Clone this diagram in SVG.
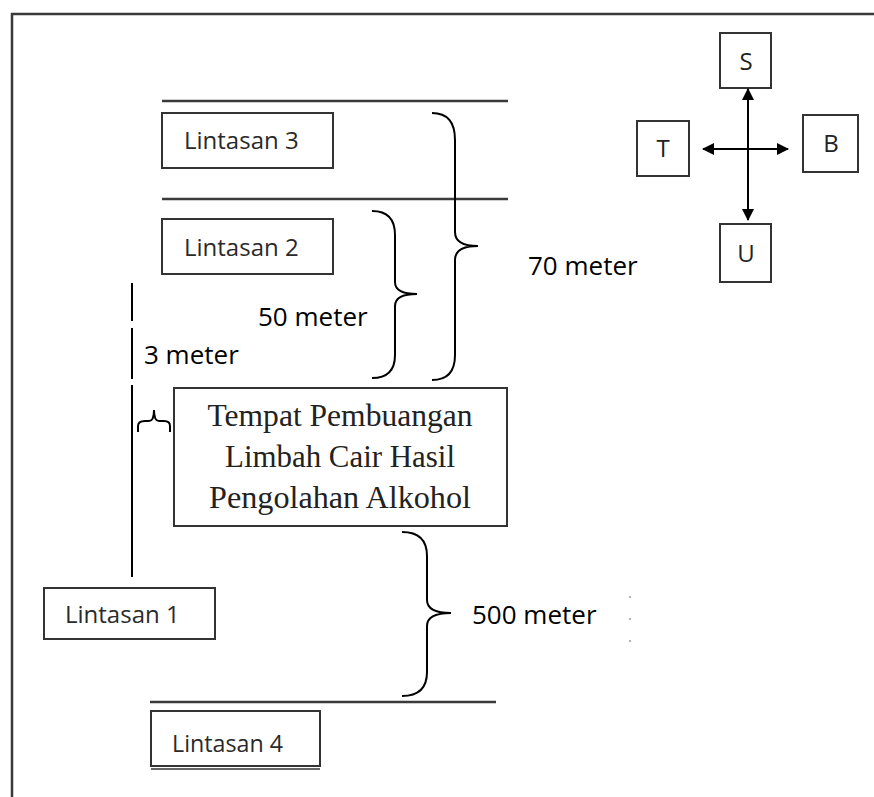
<svg xmlns="http://www.w3.org/2000/svg" width="874" height="797" viewBox="0 0 874 797">
  <style>
    .box { fill: #ffffff; stroke: #333333; stroke-width: 2; }
    .rule { stroke: #3a3a3a; stroke-width: 2.5; fill: none; }
    .brace { stroke: #000000; stroke-width: 2; fill: none; }
    .lbl { font-family: "Open Sans", "Liberation Sans", sans-serif; font-size: 24px; fill: #2a2a2a; }
    .dim { font-family: "Open Sans", "Liberation Sans", sans-serif; font-size: 26px; fill: #000000; }
    .dir { font-family: "Open Sans", "Liberation Sans", sans-serif; font-size: 24px; fill: #222222; text-anchor: middle; }
    .serif { font-family: "Liberation Serif", "Times New Roman", serif; font-size: 32px; fill: #222222; text-anchor: middle; }
    .arrow { stroke: #000000; stroke-width: 2; fill: none; marker-start: url(#ah); marker-end: url(#ah); }
  </style>
  <defs>
    <marker id="ah" viewBox="0 0 12 12" refX="11" refY="6" markerWidth="12" markerHeight="12" markerUnits="userSpaceOnUse" orient="auto-start-reverse">
      <path d="M0,0 L12,6 L0,12 Z" fill="#000000"/>
    </marker>
  </defs>

  <rect width="874" height="797" fill="#ffffff"/>

  <!-- frame -->
  <g id="frame">
    <path class="rule" d="M12,797 L12,14 L874,14"/>
  </g>

  <!-- road lines -->
  <g id="roads">
    <line class="rule" x1="162" y1="101" x2="508" y2="101"/>
    <line class="rule" x1="162" y1="199" x2="508" y2="199"/>
    <line class="rule" x1="150" y1="702" x2="496" y2="702"/>
  </g>

  <g id="lintasan3">
    <rect class="box" x="162" y="113" width="171" height="55"/>
    <text class="lbl" x="184" y="149">Lintasan 3</text>
  </g>
  <g id="lintasan2">
    <rect class="box" x="162" y="219" width="171" height="55"/>
    <text class="lbl" x="184" y="256">Lintasan 2</text>
  </g>
  <g id="lintasan1">
    <rect class="box" x="44" y="588" width="171" height="51"/>
    <text class="lbl" x="65" y="623">Lintasan 1</text>
  </g>
  <g id="lintasan4">
    <rect class="box" x="151" y="711" width="169" height="55" stroke="#000000"/>
    <line x1="151" y1="769" x2="320" y2="769" stroke="#333333" stroke-width="1.5"/>
    <text class="lbl" x="172" y="752" fill="#000000" font-size="25" textLength="111" lengthAdjust="spacingAndGlyphs">Lintasan 4</text>
  </g>

  <g id="tempat">
    <rect class="box" x="174" y="388" width="333" height="138"/>
    <text class="serif" x="340" y="426" textLength="265" lengthAdjust="spacingAndGlyphs">Tempat Pembuangan</text>
    <text class="serif" x="340" y="467" textLength="230" lengthAdjust="spacingAndGlyphs">Limbah Cair Hasil</text>
    <text class="serif" x="340" y="508" textLength="262" lengthAdjust="spacingAndGlyphs">Pengolahan Alkohol</text>
  </g>

  <!-- compass -->
  <g id="compass-S">
    <rect class="box" x="720" y="33" width="51" height="55"/>
    <text class="dir" x="746" y="70">S</text>
  </g>
  <g id="compass-T">
    <rect class="box" x="637" y="121" width="52" height="55"/>
    <text class="dir" x="663" y="157">T</text>
  </g>
  <g id="compass-B">
    <rect class="box" x="803" y="115" width="55" height="57"/>
    <text class="dir" x="831" y="152">B</text>
  </g>
  <g id="compass-U">
    <rect class="box" x="720" y="224" width="51" height="58"/>
    <text class="dir" x="746" y="262">U</text>
  </g>

  <g id="connectors">
    <line class="arrow" x1="748" y1="220" x2="748" y2="89"/>
    <line class="arrow" x1="703" y1="149" x2="788" y2="149"/>
    <!-- 70 meter brace -->
    <path class="brace" d="M432,113 Q455,113 455,140 L455,232 Q455,246 478,246 Q455,246 455,260 L455,355 Q455,380 432,380"/>
    <!-- 50 meter brace -->
    <path class="brace" d="M372,211 Q395,211 395,235 L395,282 Q395,294 417,294 Q395,294 395,306 L395,355 Q395,378 372,378"/>
    <!-- 500 meter brace -->
    <path class="brace" d="M402,532 Q427,532 427,556 L427,600 Q427,613 451,613 Q427,613 427,626 L427,672 Q427,696 402,696"/>
    <!-- 3 meter vertical line -->
    <line class="brace" x1="132" y1="283" x2="132" y2="321"/>
    <line class="brace" x1="132" y1="328" x2="132" y2="379"/>
    <line class="brace" x1="132" y1="385" x2="132" y2="577"/>
    <!-- small horizontal brace -->
    <path class="brace" d="M138,432 L138,426 Q138,421 145,421 L149,421 Q154,421 154,410 Q154,421 159,421 L164,421 Q170,421 170,426 L170,432"/>
    <!-- faint dotted edge -->
    <line x1="630" y1="596" x2="630" y2="642" stroke="#999999" stroke-width="1.5" stroke-dasharray="2,20"/>
  </g>

  <g id="labels">
    <text class="dim" x="528" y="275">70 meter</text>
    <text class="dim" x="258" y="326">50 meter</text>
    <text class="dim" x="144" y="364">3 meter</text>
    <text class="dim" x="472" y="624">500 meter</text>
  </g>
</svg>
